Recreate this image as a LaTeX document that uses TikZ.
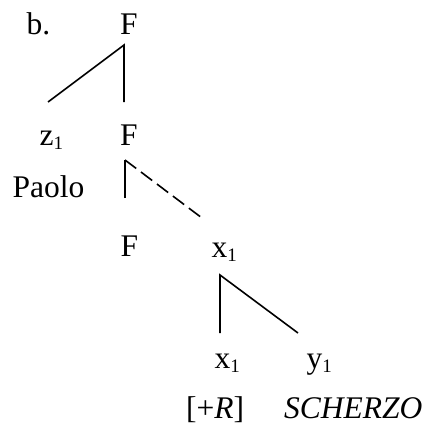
\documentclass[tikz,border=0pt]{standalone}
\usepackage{fontspec}
\setmainfont{Liberation Serif}
\newcommand{\sbone}{{\fontsize{19}{19}\selectfont\raisebox{-4pt}{1}}}
\begin{document}
\begin{tikzpicture}[x=1pt,y=-1pt,
  lbl/.style={inner sep=0pt,anchor=base,font=\fontsize{31.5}{38}\selectfont},
  lblw/.style={lbl,anchor=base west},
  edge/.style={line width=1.6pt},
  dedge/.style={edge,dash pattern=on 14pt off 6pt}]
\useasboundingbox (0,0) rectangle (425,428);
% labels
\node[lblw] (b) at (26.5,35) {b.};
\node[lbl] (F1) at (129,35) {F};
\node[lblw] (z1) at (39.5,145) {z\sbone};
\node[lbl] (F2) at (129,145) {F};
\node[lblw] (paolo) at (12.5,197) {Paolo};
\node[lbl] (F3) at (129.5,256) {F};
\node[lblw] (x1a) at (211.5,257) {x\sbone};
\node[lblw] (x1b) at (214.5,368) {x\sbone};
\node[lblw] (y1) at (306.5,368) {y\sbone};
\node[lblw] (R) at (186,418) {[+\textit{R}]};
\node[lblw] (sch) at (284,418) {\textit{SCHERZO}};
% branch points
\coordinate (a1) at (124,45);
\coordinate (l1) at (48,102);
\coordinate (r1) at (124,102);
\coordinate (a2) at (125,160);
\coordinate (l2) at (125,198);
\coordinate (r2) at (202,218);
\coordinate (a3) at (220,275);
\coordinate (l3) at (220,333);
\coordinate (r3) at (298,333);
% connectors
\draw[edge] (l1) -- (a1) -- (r1);
\draw[edge] (l2) -- (a2);
\draw[dedge] (a2) -- (r2);
\draw[edge] (l3) -- (a3) -- (r3);
\end{tikzpicture}
\end{document}
